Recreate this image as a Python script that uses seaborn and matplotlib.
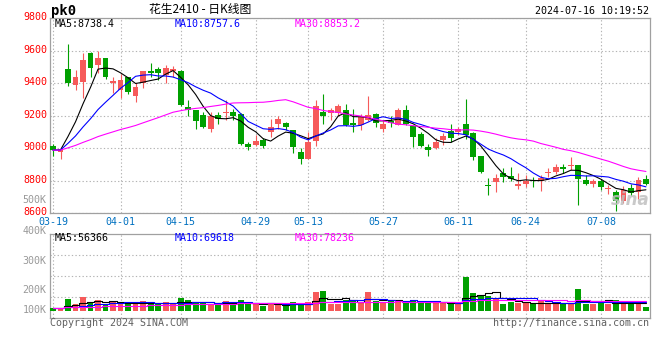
import matplotlib
matplotlib.use("Agg")
import matplotlib.pyplot as plt
from matplotlib.transforms import ScaledTranslation
import numpy as np
import pandas as pd
import seaborn as sns

sns.set_theme(style="white")
plt.rcParams["font.family"] = ["DejaVu Sans Mono", "Noto Sans CJK SC"]

# ---------------------------------------------------------------
# Data (read off the sina daily K chart of PK2410)
# ---------------------------------------------------------------
HOLIDAYS = ["2024-04-04", "2024-04-05", "2024-05-01", "2024-05-02",
            "2024-05-03", "2024-06-10"]
TICK_DATES = ["03-19", "04-01", "04-15", "04-29", "05-13",
              "05-27", "06-11", "06-24", "07-08"]

OPEN = [9011, 8977, 9486, 9389, 9409, 9582, 9513, 9553, 9397, 9356,
        9438, 9318, 9403, 9476, 9486, 9448, 9476, 9476, 9255, 9231,
        9200, 9115, 9206, 9214, 9224, 9212, 9024, 9017, 9050, 9099,
        9145, 9155, 9109, 8975, 8934, 9042, 9224, 9214, 9216, 9231,
        9151, 9139, 9170, 9212, 9115, 9168, 9143, 9231, 9133, 9084,
        9007, 9001, 9048, 9103, 9099, 9145, 9095, 8950, 8774, 8788,
        8847, 8829, 8764, 8776, 8804, 8798, 8847, 8851, 8883, 8890,
        8896, 8804, 8780, 8798, 8747, 8729, 8672, 8753, 8729, 8810]
HIGH = [9026, 8997, 9639, 9482, 9586, 9590, 9596, 9555, 9438, 9454,
        9440, 9403, 9476, 9525, 9498, 9513, 9505, 9480, 9298, 9233,
        9220, 9220, 9224, 9296, 9241, 9215, 9038, 9078, 9062, 9176,
        9196, 9157, 9112, 9001, 9097, 9298, 9332, 9245, 9273, 9273,
        9243, 9212, 9322, 9214, 9170, 9200, 9245, 9267, 9139, 9099,
        9024, 9064, 9093, 9145, 9127, 9304, 9099, 8952, 8814, 8839,
        8879, 8883, 8845, 8831, 8820, 8835, 8875, 8902, 8902, 8943,
        8898, 8835, 8810, 8810, 8774, 8743, 8764, 8780, 8822, 8831]
LOW = [8952, 8934, 9379, 9356, 9306, 9434, 9464, 9424, 9338, 9306,
       9332, 9281, 9367, 9434, 9421, 9397, 9438, 9260, 9194, 9115,
       9125, 9097, 9145, 9174, 9170, 9017, 8987, 9012, 9001, 9066,
       9115, 9109, 8971, 8904, 8930, 9013, 9147, 9174, 9200, 9135,
       9099, 9109, 9164, 9129, 9099, 9129, 9139, 9143, 9007, 9005,
       8952, 8993, 9017, 9038, 9078, 9058, 8926, 8849, 8713, 8727,
       8788, 8794, 8749, 8758, 8762, 8733, 8822, 8839, 8849, 8865,
       8648, 8774, 8758, 8743, 8715, 8611, 8662, 8709, 8689, 8774]
CLOSE = [8987, 8993, 9401, 9438, 9541, 9494, 9553, 9434, 9413, 9419,
         9342, 9377, 9474, 9464, 9464, 9492, 9488, 9267, 9235, 9166,
         9129, 9200, 9180, 9224, 9200, 9026, 9007, 9042, 9011, 9127,
         9180, 9129, 9007, 8934, 9038, 9261, 9194, 9231, 9261, 9139,
         9139, 9192, 9206, 9155, 9145, 9151, 9231, 9149, 9068, 9011,
         8989, 9036, 9072, 9062, 9119, 9078, 8946, 8855, 8766, 8814,
         8822, 8810, 8780, 8794, 8794, 8818, 8851, 8883, 8869, 8896,
         8812, 8780, 8794, 8758, 8753, 8672, 8739, 8723, 8800, 8780]
VOLUME = [25000, 20000, 87500, 50000, 102500, 67500, 80000, 55000, 72500, 55000,
          55000, 55000, 72500, 55000, 50000, 65000, 55000, 95000, 80000, 60000,
          60000, 55000, 55000, 72500, 50000, 80000, 55000, 55000, 40000, 55000,
          50000, 40000, 65000, 55000, 65000, 140000, 147500, 55000, 55000, 85000,
          85000, 67500, 140000, 75000, 60000, 75000, 67500, 60000, 85000, 60000,
          60000, 60000, 60000, 55000, 55000, 252500, 132500, 110000, 110000, 95000,
          50000, 67500, 60000, 60000, 55000, 75000, 55000, 55000, 55000, 50000,
          162500, 55000, 55000, 67500, 55000, 80000, 55000, 55000, 72500, 27500]

PRICE_TICKS = [8600, 8800, 9000, 9200, 9400, 9600, 9800]
VOL_LABELS = ["500K", "400K", "300K", "200K", "100K"]
MA_PRICE_TEXT = ["MA5:8738.4", "MA10:8757.6", "MA30:8853.2"]
MA_VOL_TEXT = ["MA5:56366", "MA10:69618", "MA30:78236"]

RED = "#f65a5a"
GREEN = "#00a000"
MA_COLORS = ["black", "#0000ff", "#ff00ff"]
GRID = dict(color="#b4b4b4", linestyle=(0, (1.2, 2.0)), linewidth=0.8)


def moving_avg(values, n):
    # pad the front with the first value so the line starts at the first bar
    v = np.asarray(values, dtype=float)
    padded = np.concatenate([np.full(n - 1, v[0]), v])
    return pd.Series(padded).rolling(n).mean().to_numpy()[n - 1:]


days = pd.bdate_range("2024-03-19", "2024-07-16")
days = days[~days.isin(pd.to_datetime(HOLIDAYS))]
labels = list(days.strftime("%m-%d"))
idx = np.arange(len(days))
tick_pos = [labels.index(d) for d in TICK_DATES]

o, h, l, c = map(np.asarray, (OPEN, HIGH, LOW, CLOSE))
up = c >= o
colors = np.where(up, RED, GREEN)

W, H = 660, 360
fig = plt.figure(figsize=(W / 100, H / 100), dpi=100)
ax = fig.add_axes([50 / W, 1 - 213 / H, 600 / W, 195 / H])
axv = fig.add_axes([50 / W, 1 - 318 / H, 600 / W, 84 / H])

# ---------------- price panel ----------------
ax.vlines(idx, l, h, colors=colors, linewidth=0.8, zorder=2)
ax.bar(idx, np.maximum(np.abs(c - o), 5), bottom=np.minimum(o, c),
       width=0.78, color=colors, linewidth=0, zorder=3)
for n, col in zip([5, 10, 30], MA_COLORS):
    sns.lineplot(x=idx, y=moving_avg(CLOSE, n), ax=ax, color=col,
                 linewidth=0.8, legend=False, zorder=4)

ax.set_xlim(-0.4, 79.54)
ax.set_ylim(8600, 9800)
ax.set_yticks(PRICE_TICKS)
ax.set_yticklabels([str(t) for t in PRICE_TICKS], color="#ff0000", fontsize=7.2)
ax.set_xticks(tick_pos)
ax.set_xticklabels(TICK_DATES, color="#0070c0", fontsize=7.2)
ax.tick_params(axis="y", length=0, pad=2.2)
ax.tick_params(axis="x", length=0, pad=2.9)
# sina draws the price labels a touch above their grid line
lift = ScaledTranslation(0, 0.016, fig.dpi_scale_trans)
for lbl in ax.get_yticklabels():
    lbl.set_transform(lbl.get_transform() + lift)
ax.grid(True, **GRID)
ax.set_xlabel(""); ax.set_ylabel("")

for txt, col, xf in zip(MA_PRICE_TEXT, MA_COLORS, [0.008, 0.208, 0.408]):
    ax.text(xf, 0.971, txt, transform=ax.transAxes, color=col,
            fontsize=7.2, ha="left", va="center", zorder=6)
ax.text(1.0, 0.065, "sina", transform=ax.transAxes, ha="right", va="center",
        fontsize=12, fontstyle="italic", fontweight="bold", color="#c0c0c0",
        family="DejaVu Sans", alpha=0.85, zorder=5)

# ---------------- volume panel ----------------
axv.bar(idx, VOLUME, width=0.78, color=colors, linewidth=0, zorder=3)
for n, col in zip([5, 10, 30], MA_COLORS):
    sns.lineplot(x=idx, y=moving_avg(VOLUME, n), ax=axv, color=col,
                 linewidth=0.8, legend=False, zorder=4, drawstyle="steps-mid")
axv.set_xlim(-0.4, 79.54)
axv.set_ylim(-52500, 577500)
axv.set_yticks([105000, 262500, 420000])
axv.set_yticklabels([])
axv.set_xticks(tick_pos)
axv.set_xticklabels([])
axv.tick_params(length=0)
axv.grid(True, **GRID)
axv.set_xlabel(""); axv.set_ylabel("")

for txt, col, xf in zip(MA_VOL_TEXT, MA_COLORS, [0.008, 0.208, 0.408]):
    axv.text(xf, 0.952, txt, transform=axv.transAxes, color=col,
             fontsize=7.2, ha="left", va="center", zorder=6)
for txt, ypix in zip(VOL_LABELS, [200, 231, 261, 290, 310]):
    fig.text(46.5 / W, 1 - ypix / H, txt, color="#999999", fontsize=7.2,
             ha="right", va="center")

for a in (ax, axv):
    for s in a.spines.values():
        s.set_color("#a0a0a0")
        s.set_linewidth(0.9)

# ---------------- header / footer ----------------
fig.text(51 / W, 1 - 10.5 / H, "pk0", fontsize=10, fontweight="bold",
         ha="left", va="center", color="black")
fig.text(200 / W, 1 - 10 / H, "花生2410 - 日K线图", fontsize=8.5,
         family=["Noto Sans CJK SC", "DejaVu Sans"], ha="center", va="center",
         color="black")
fig.text(649 / W, 1 - 11 / H, "2024-07-16 10:19:52", fontsize=7.2,
         ha="right", va="center", color="black")
fig.text(50 / W, 1 - 323 / H, "Copyright 2024 SINA.COM", fontsize=7.2,
         ha="left", va="center", color="#606060")
fig.text(649 / W, 1 - 323 / H, "http://finance.sina.com.cn", fontsize=7.2,
         ha="right", va="center", color="#606060")

fig.savefig("out.png", dpi=100)
plt.close(fig)
